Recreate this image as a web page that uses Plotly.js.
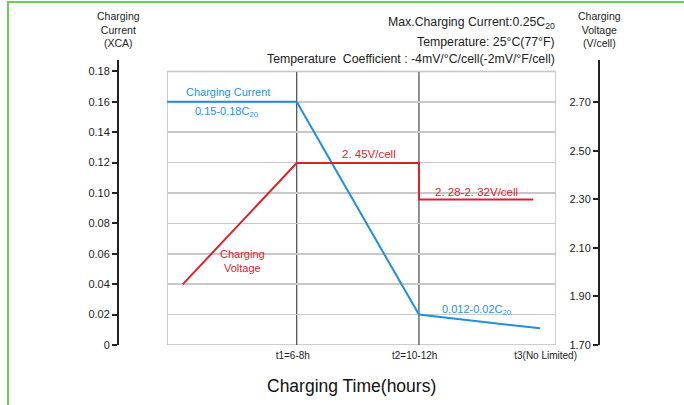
<!DOCTYPE html>
<html>
<head>
<meta charset="utf-8">
<script src="https://cdn.plot.ly/plotly-3.0.1.min.js"></script>
<style>html,body{margin:0;padding:0;background:#fff;}#chart{width:684px;height:405px;}</style>
</head>
<body>
<div id="chart"></div>
<script>
// ---- data ----
const currentX = [0, 1, 1.943, 2.877];
const currentY = [0.16, 0.16, 0.02, 0.011];
const voltageX = [0.121, 1, 1.943, 1.943, 2.825];
const voltageY = [1.95, 2.45, 2.45, 2.30, 2.30];
const timeTickVals = [0.97, 1.91, 2.92];
const timeTickText = ["t1=6-8h", "t2=10-12h", "t3(No Limited)"];
const currentTicks = [0, 0.02, 0.04, 0.06, 0.08, 0.10, 0.12, 0.14, 0.16, 0.18];
const currentTickText = ["0", "0.02", "0.04", "0.06", "0.08", "0.10", "0.12", "0.14", "0.16", "0.18"];
const voltageTicks = [1.70, 1.90, 2.10, 2.30, 2.50, 2.70];
const voltageTickText = ["1.70", "1.90", "2.10", "2.30", "2.50", "2.70"];
const phaseLines = [1, 1.943];

const SANS = "'Liberation Sans', Arial, sans-serif";
const BLUE = "#1f8fe3";
const RED = "#d9232c";

const traces = [
  {x: currentX, y: currentY, type: "scatter", mode: "lines", yaxis: "y",
   line: {color: BLUE, width: 2}, hoverinfo: "skip", showlegend: false},
  {x: voltageX, y: voltageY, type: "scatter", mode: "lines", yaxis: "y2",
   line: {color: RED, width: 2}, hoverinfo: "skip", showlegend: false}
];

const shapes = [
  {type: "rect", xref: "x", yref: "y", x0: 0, x1: 3, y0: 0, y1: 0.18,
   line: {color: "#bdbdbd", width: 1.5}, layer: "below"}
];
phaseLines.forEach(v => shapes.push({type: "line", xref: "x", yref: "y", x0: v, x1: v, y0: 0, y1: 0.18,
  line: {color: "#555", width: 1.3}, layer: "below"}));
// green frame of the picture
shapes.push({type: "rect", xref: "paper", yref: "paper", x0: -0.2287, x1: 1.5, y0: -1, y1: 1.2035,
  line: {color: "#6ccf55", width: 2}, layer: "below"});

function ann(text, x, y, color, size) {
  return {text: text, xref: "x", yref: "y", x: x, y: y, showarrow: false,
    font: {family: SANS, size: size || 11, color: color}};
}
function paperAnn(text, x, y, xanchor, yanchor, size, color) {
  return {text: text, xref: "paper", yref: "paper", x: x, y: y, showarrow: false,
    xanchor: xanchor, yanchor: yanchor, font: {family: SANS, size: size, color: color || "#222"}};
}

const annotations = [
  ann("Charging Current", 0.47, 0.1665, BLUE),
  ann("0.15-0.18C<sub>20</sub>", 0.46, 0.153, BLUE),
  ann("Charging<br>Voltage", 0.58, 0.0555, RED),
  ann("2. 45V/cell", 1.56, 0.1255, RED, 11.5),
  ann("2. 28-2. 32V/cell", 2.39, 0.1005, RED, 11.5),
  ann("0.012-0.02C<sub>20</sub>", 2.39, 0.0232, BLUE),
  paperAnn("Charging<br>Current<br>(XCA)", 0, 1.183, "center", "top", 10.5),
  paperAnn("Charging<br>Voltage<br>(V/cell)", 1, 1.183, "center", "top", 10.5),
  paperAnn("Max.Charging Current:0.25C<sub>20</sub>", 0.9127, 1.13, "right", "middle", 12.3),
  paperAnn("Temperature: 25°C(77°F)", 0.9127, 1.063, "right", "middle", 12.3),
  paperAnn("Temperature  Coefficient : -4mV/°C/cell(-2mV/°F/cell)", 0.9127, 1.003, "right", "middle", 12.3),
  paperAnn("Charging Time(hours)", 0.485, -0.145, "center", "middle", 17.5, "#111")
];

const layout = {
  width: 684, height: 405,
  margin: {l: 118, r: 85, t: 60, b: 60, pad: 0},
  paper_bgcolor: "#fff", plot_bgcolor: "rgba(0,0,0,0)",
  showlegend: false,
  xaxis: {domain: [0.1019, 0.9106], range: [0, 3], showgrid: false, zeroline: false, showline: false,
    tickmode: "array", tickvals: timeTickVals, ticktext: timeTickText, ticks: "", ticklen: 0,
    ticklabelstandoff: 3,
    tickfont: {family: SANS, size: 10, color: "#222"}, fixedrange: true},
  yaxis: {anchor: "free", position: 0, range: [0, 0.1875], tickmode: "array", tickvals: currentTicks,
    ticktext: currentTickText, ticks: "outside", ticklen: 5, tickwidth: 2, tickcolor: "#222",
    showline: true, linecolor: "#222", linewidth: 2, showgrid: true, gridcolor: "#c8c8c8", gridwidth: 1.5,
    zeroline: false, tickfont: {family: SANS, size: 11, color: "#222"}, fixedrange: true},
  yaxis2: {anchor: "free", position: 1, side: "left", overlaying: "y", range: [1.70, 2.875],
    tickmode: "array", tickvals: voltageTicks, ticktext: voltageTickText,
    ticks: "outside", ticklen: 5, tickwidth: 2, tickcolor: "#222",
    showline: true, linecolor: "#222", linewidth: 2, showgrid: false, zeroline: false,
    tickfont: {family: SANS, size: 11, color: "#222"}, fixedrange: true},
  shapes: shapes,
  annotations: annotations
};

Plotly.newPlot("chart", traces, layout, {displayModeBar: false, staticPlot: true});
</script>
</body>
</html>
